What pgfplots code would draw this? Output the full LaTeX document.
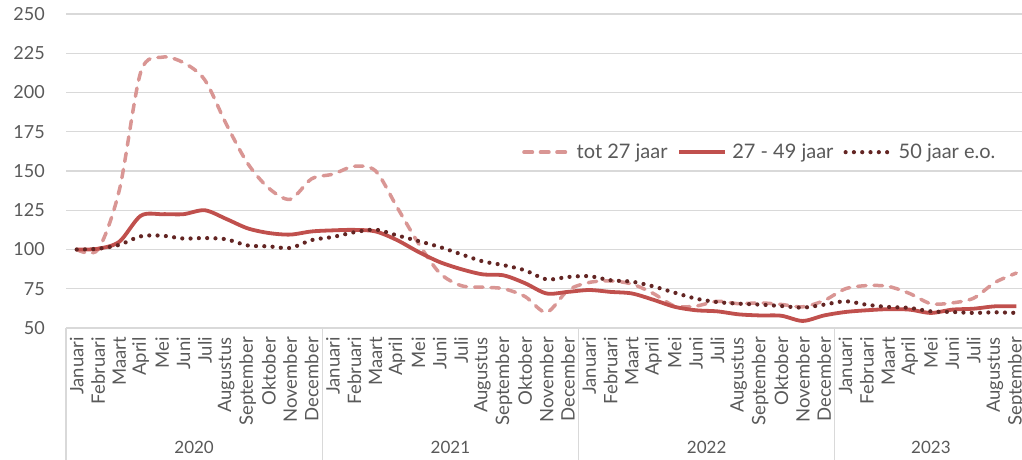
\documentclass[border=0pt]{standalone}
\usepackage{fontspec}
\setmainfont{Lato}
\usepackage{pgfplots}
\pgfplotsset{compat=1.18}
\definecolor{txt}{HTML}{595959}
\definecolor{grd}{HTML}{D9D9D9}
\definecolor{cA}{HTML}{D99694}
\definecolor{cB}{HTML}{C0504D}
\definecolor{cC}{HTML}{632523}
\begin{document}
\begin{tikzpicture}[x=1pt,y=1pt]
\useasboundingbox (0,0) rectangle (1022,459);
\begin{axis}[
  at={(66pt,131pt)}, anchor=south west,
  scale only axis, width=961pt, height=314pt,
  xmin=-0.5, xmax=44.5, ymin=50, ymax=250,
  ytick={50,75,...,250},
  xtick={0,...,44},
  xticklabels={Januari,Februari,Maart,April,Mei,Juni,Juli,Augustus,September,Oktober,November,December,
    Januari,Februari,Maart,April,Mei,Juni,Juli,Augustus,September,Oktober,November,December,
    Januari,Februari,Maart,April,Mei,Juni,Juli,Augustus,September,Oktober,November,December,
    Januari,Februari,Maart,April,Mei,Juni,Juli,Augustus,September},
  xticklabel style={rotate=90, anchor=east, inner sep=1pt, font=\fontsize{18.5}{19}\selectfont, text=txt},
  xticklabel shift=8pt,
  yticklabel style={font=\fontsize{18}{19}\selectfont, text=txt, inner sep=0pt},
  yticklabel shift=21pt,
  /pgf/number format/assume math mode=true,
  major tick length=0pt,
  ymajorgrids, grid style={grd, line width=1.3pt},
  axis line style={draw=none},
  clip=false,
  legend style={at={(rel axis cs:0.722,0.56)}, anchor=center, draw=none, fill=none,
    font=\fontsize{20}{21}\selectfont, text=txt, column sep=3pt,
    /tikz/every even column/.append style={column sep=8pt}},
  legend columns=3,
  legend image code/.code={\draw (0pt,0pt) -- (46pt,0pt);},
]
\addplot[cA, line width=3.5pt, smooth, tension=0.5, dash pattern=on 8.5pt off 8pt, line cap=round] coordinates {
(0,100) (1,100) (2,138) (3,213) (4,222.5) (5,219) (6,208) (7,180) (8,155) (9,139) (10,132) (11,145)
(12,148) (13,153) (14,150) (15,127) (16,104) (17,85) (18,77) (19,76) (20,75) (21,70) (22,60) (23,74)
(24,79) (25,80) (26,78) (27,72) (28,64) (29,64) (30,67) (31,65.5) (32,66) (33,65) (34,63.5) (35,67.5)
(36,75) (37,77) (38,76.5) (39,72) (40,65.5) (41,66) (42,69) (43,79) (44,85)};
\addlegendentry{tot 27 jaar}
\addplot[cB, line width=3.8pt, smooth, tension=0.5] coordinates {
(0,100) (1,100.5) (2,105) (3,121.5) (4,122.5) (5,122.5) (6,125) (7,119.5) (8,113.5) (9,110.5) (10,109.5) (11,111.5)
(12,112.2) (13,112.5) (14,111.5) (15,106) (16,98.5) (17,92) (18,87.5) (19,84.2) (20,83.5) (21,78.5) (22,72) (23,73)
(24,74.2) (25,73) (26,72) (27,68) (28,63.5) (29,61.3) (30,60.6) (31,58.7) (32,58) (33,57.8) (34,54.5) (35,58)
(36,60.2) (37,61.3) (38,62) (39,61.7) (40,59.6) (41,61.7) (42,62.3) (43,63.8) (44,63.8)};
\addlegendentry{27 - 49 jaar}
\addplot[cC, line width=4.2pt, smooth, tension=0.5, dash pattern=on 0pt off 8.3pt, line cap=round] coordinates {
(0,100) (1,100.5) (2,103) (3,108.4) (4,108.8) (5,107) (6,107.3) (7,106.5) (8,102.6) (9,102) (10,101) (11,106)
(12,108) (13,111) (14,112.6) (15,109) (16,105.4) (17,101.6) (18,97) (19,92.5) (20,90) (21,86.7) (22,81) (23,82.5)
(24,83) (25,80.4) (26,79.5) (27,76.5) (28,72.5) (29,68.7) (30,66.5) (31,65.5) (32,64.9) (33,64) (34,63) (35,64.9)
(36,67) (37,64.8) (38,63.4) (39,62.8) (40,60.6) (41,60.2) (42,59.6) (43,60) (44,59.6)};
\addlegendentry{50 jaar e.o.}
\draw[grd, line width=1.3pt] (axis cs:-0.5,50) -- ++(0pt,-135pt);
\draw[grd, line width=1.3pt] (axis cs:11.5,50) -- ++(0pt,-135pt);
\draw[grd, line width=1.3pt] (axis cs:23.5,50) -- ++(0pt,-135pt);
\draw[grd, line width=1.3pt] (axis cs:35.5,50) -- ++(0pt,-135pt);
\node[font=\fontsize{17}{18}\selectfont, text=txt] at ([yshift=-119pt]axis cs:5.5,50) {2020};
\node[font=\fontsize{17}{18}\selectfont, text=txt] at ([yshift=-119pt]axis cs:17.5,50) {2021};
\node[font=\fontsize{17}{18}\selectfont, text=txt] at ([yshift=-119pt]axis cs:29.5,50) {2022};
\node[font=\fontsize{17}{18}\selectfont, text=txt] at ([yshift=-119pt]axis cs:40,50) {2023};
\end{axis}
\end{tikzpicture}
\end{document}
